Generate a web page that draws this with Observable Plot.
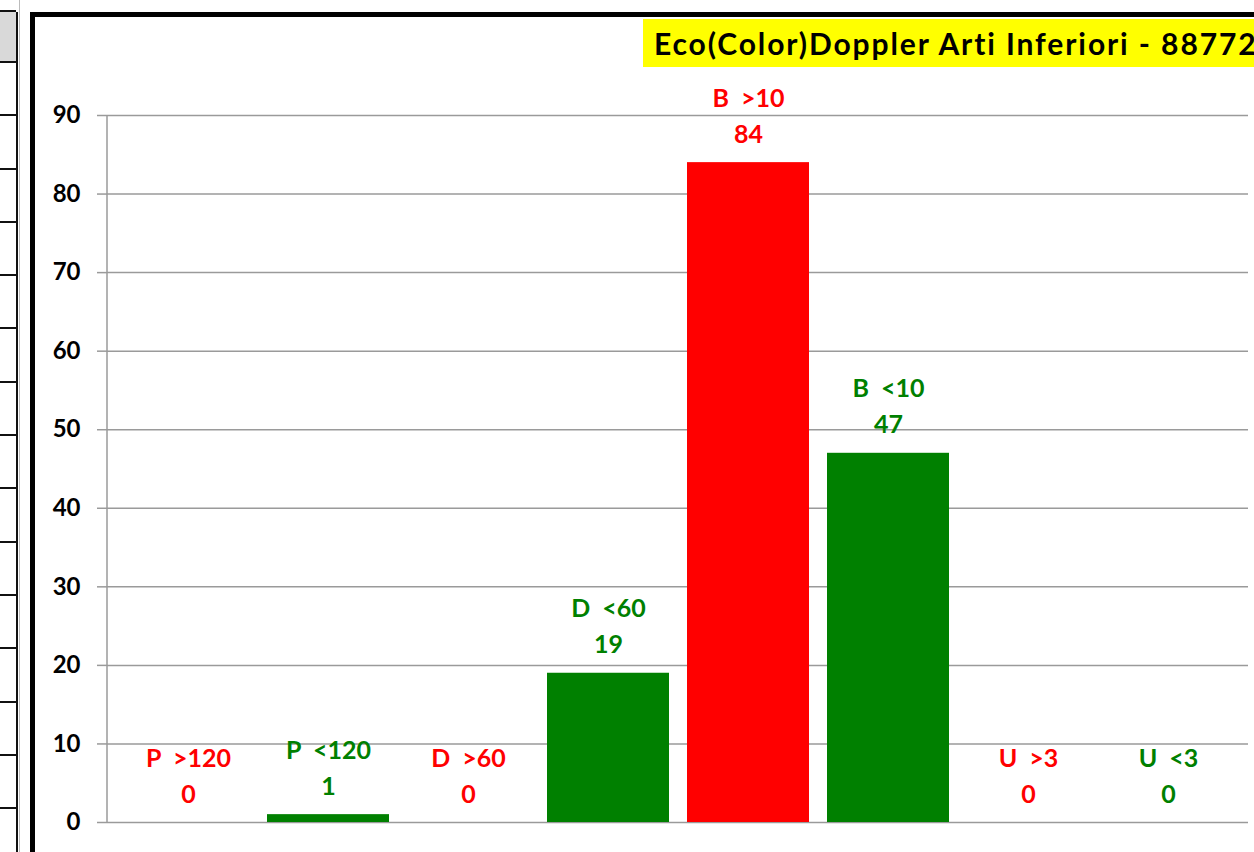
<!DOCTYPE html>
<html>
<head>
<meta charset="utf-8">
<script src="https://cdn.jsdelivr.net/npm/d3@7"></script>
<script src="https://cdn.jsdelivr.net/npm/@observablehq/plot@0.6"></script>
<style>
  html, body { margin: 0; padding: 0; background: #fff; }
  #wrap { position: relative; width: 1254px; height: 852px; overflow: hidden; font-family: Lato, "Open Sans", sans-serif; }
  .strip { position: absolute; left: 0; top: 12px; width: 16px; height: 840px; border-right: 2px solid #111; }
  .cell { position: absolute; left: 0; width: 16px; border-bottom: 2px solid #111; }
  .strip2 { position: absolute; left: 19px; top: 0; width: 1px; height: 852px; background: #bbb; }
  #box { position: absolute; left: 30px; top: 12px; width: 1300px; height: 836px; border-left: 5px solid #000; border-top: 5px solid #000; border-bottom: 2px solid #333; background: #fff; }
  #title { position: absolute; left: 643px; top: 19px; width: 700px; height: 48px; background: #ffff00; color: #000;
           font: bold 30px Lato, sans-serif; letter-spacing: 1.9px; line-height: 48px; padding-left: 11px; white-space: nowrap; box-sizing: border-box; }
  #chart { position: absolute; left: 0; top: 0; }
  #chart svg text { white-space: pre; }
</style>
</head>
<body>
<div id="wrap">
  <div class="strip2"></div>
  <div class="strip" id="strip"></div>
  <div id="box"></div>
  <div id="chart"></div>
  <div id="title">Eco(Color)Doppler Arti Inferiori - 88772</div>
</div>
<script>
// ---- data ----
const categories = ["P  >120", "P  <120", "D  >60", "D  <60", "B  >10", "B  <10", "U  >3", "U  <3"];
const values = [0, 1, 0, 19, 84, 47, 0, 0];
const status = ["over", "under", "over", "under", "over", "under", "over", "under"];
const yTicks = [0, 10, 20, 30, 40, 50, 60, 70, 80, 90];

const rows = categories.map((c, i) => ({category: c, value: values[i], status: status[i]}));

// spreadsheet strip on the left (decoration)
const strip = document.getElementById("strip");
const gray = document.createElement("div");
gray.className = "cell";
gray.style.height = "49px"; gray.style.background = "#d9d9d9";
gray.style.borderTop = "2px solid #111"; gray.style.top = "-2px";
strip.appendChild(gray);
for (let k = 1; k <= 15; k++) {
  const d = document.createElement("div");
  d.className = "cell";
  d.style.top = (51 + (k - 1) * 53.3) + "px";
  d.style.height = "51.3px";
  strip.appendChild(d);
}

const colorScale = {domain: ["over", "under"], range: ["#ff0000", "#008000"]};

const chart = Plot.plot({
  width: 1254,
  height: 852,
  marginLeft: 107,
  marginRight: 6,
  marginTop: 115,
  marginBottom: 30,
  style: {background: "transparent", fontFamily: "Lato, sans-serif", overflow: "visible"},
  x: {domain: categories, range: [116, 1239], padding: 0, axis: null},
  y: {domain: [0, 90]},
  color: colorScale,
  marks: [
    Plot.gridY(yTicks, {stroke: "#9a9a9a", strokeOpacity: 1, strokeWidth: 1.5}),
    Plot.axisY(yTicks, {tickSize: 10, tickPadding: 17, stroke: "#9a9a9a", strokeWidth: 1.5, fill: "#000",
      fontSize: 24, fontWeight: "bold", label: null, tickFormat: d => String(d)}),
    Plot.barY(rows, {x: "category", y: "value", fill: "status", insetLeft: 9, insetRight: 9}),
    Plot.text(rows, {x: "category", y: "value", text: d => String(d.value), fill: "status",
      dy: -28, fontSize: 25, fontWeight: "bold"}),
    Plot.text(rows, {x: "category", y: "value", text: "category", fill: "status",
      dy: -64, fontSize: 25, fontWeight: "bold"})
  ]
});

// vertical axis line through the y scale
const ys = chart.scale("y");
d3.select(chart).append("line")
  .attr("x1", 107).attr("x2", 107)
  .attr("y1", ys.apply(0)).attr("y2", ys.apply(90))
  .attr("stroke", "#9a9a9a").attr("stroke-width", 1.5);

document.getElementById("chart").appendChild(chart);
</script>
</body>
</html>
